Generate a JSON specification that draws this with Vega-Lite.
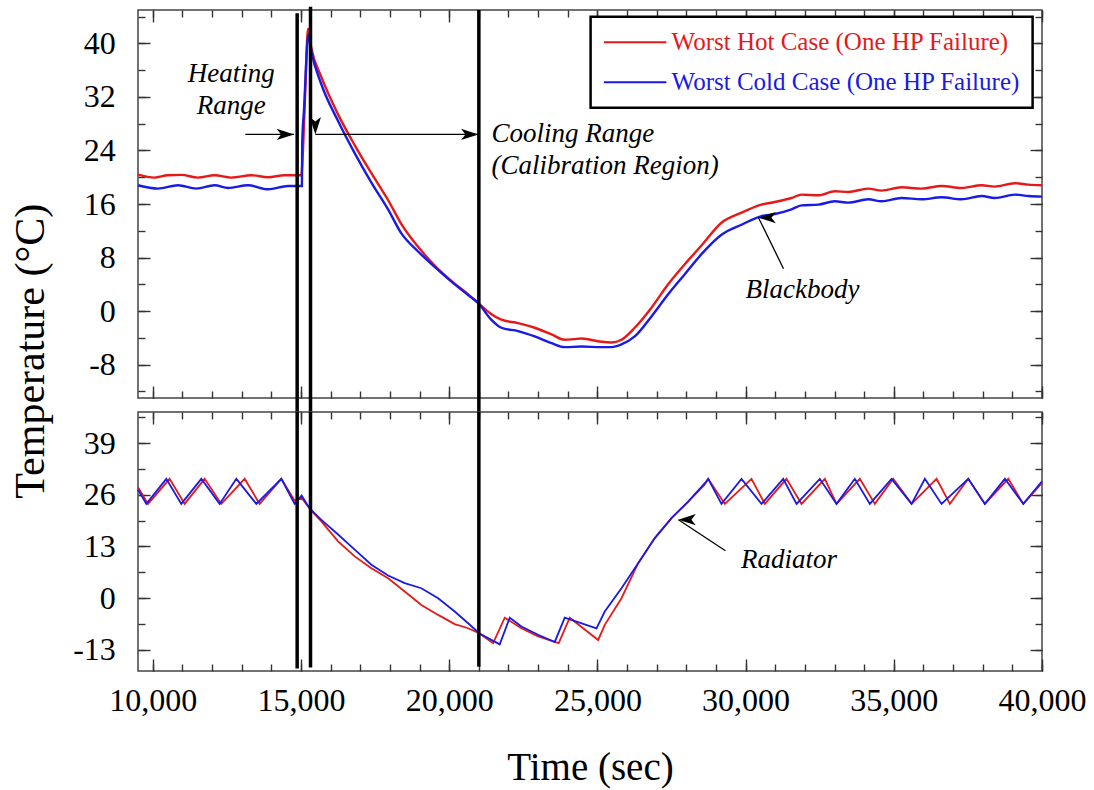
{
  "$schema": "https://vega.github.io/schema/vega-lite/v6.json",
  "background": "white",
  "padding": {"left": 8, "top": 4, "right": 5, "bottom": 5},
  "config": {
    "view": {"stroke": "#444", "strokeWidth": 1.5},
    "font": "Liberation Serif",
    "axis": {"grid": false, "domain": false, "tickColor": "#333", "tickWidth": 1.4, "labelFont": "Liberation Serif", "labelFontSize": 32, "labelColor": "#000", "titleFont": "Liberation Serif", "titleFontWeight": "normal", "titleColor": "#000", "labelFlush": false}
  },
  "datasets": {
    "bb": [
      {"t": 9500, "T": 20.4, "s": "Worst Hot Case (One HP Failure)"},
      {"t": 10055, "T": 19.95, "s": "Worst Hot Case (One HP Failure)"},
      {"t": 10500, "T": 20.3, "s": "Worst Hot Case (One HP Failure)"},
      {"t": 10961, "T": 20.35, "s": "Worst Hot Case (One HP Failure)"},
      {"t": 11525, "T": 19.95, "s": "Worst Hot Case (One HP Failure)"},
      {"t": 12085, "T": 20.3, "s": "Worst Hot Case (One HP Failure)"},
      {"t": 12649, "T": 19.95, "s": "Worst Hot Case (One HP Failure)"},
      {"t": 13324, "T": 20.3, "s": "Worst Hot Case (One HP Failure)"},
      {"t": 13888, "T": 20.0, "s": "Worst Hot Case (One HP Failure)"},
      {"t": 14448, "T": 20.3, "s": "Worst Hot Case (One HP Failure)"},
      {"t": 15010, "T": 20.3, "s": "Worst Hot Case (One HP Failure)"},
      {"t": 15075, "T": 25, "s": "Worst Hot Case (One HP Failure)"},
      {"t": 15143, "T": 33, "s": "Worst Hot Case (One HP Failure)"},
      {"t": 15237, "T": 42.2, "s": "Worst Hot Case (One HP Failure)"},
      {"t": 15349, "T": 39.3, "s": "Worst Hot Case (One HP Failure)"},
      {"t": 15686, "T": 35.0, "s": "Worst Hot Case (One HP Failure)"},
      {"t": 16250, "T": 29.4, "s": "Worst Hot Case (One HP Failure)"},
      {"t": 16810, "T": 24.8, "s": "Worst Hot Case (One HP Failure)"},
      {"t": 17374, "T": 20.6, "s": "Worst Hot Case (One HP Failure)"},
      {"t": 17937, "T": 16.6, "s": "Worst Hot Case (One HP Failure)"},
      {"t": 18386, "T": 13.0, "s": "Worst Hot Case (One HP Failure)"},
      {"t": 18950, "T": 9.6, "s": "Worst Hot Case (One HP Failure)"},
      {"t": 19510, "T": 6.8, "s": "Worst Hot Case (One HP Failure)"},
      {"t": 20074, "T": 4.5, "s": "Worst Hot Case (One HP Failure)"},
      {"t": 20637, "T": 2.5, "s": "Worst Hot Case (One HP Failure)"},
      {"t": 20975, "T": 1.2, "s": "Worst Hot Case (One HP Failure)"},
      {"t": 21400, "T": -0.4, "s": "Worst Hot Case (One HP Failure)"},
      {"t": 21761, "T": -1.3, "s": "Worst Hot Case (One HP Failure)"},
      {"t": 22325, "T": -1.8, "s": "Worst Hot Case (One HP Failure)"},
      {"t": 22885, "T": -2.5, "s": "Worst Hot Case (One HP Failure)"},
      {"t": 23449, "T": -3.5, "s": "Worst Hot Case (One HP Failure)"},
      {"t": 23898, "T": -4.3, "s": "Worst Hot Case (One HP Failure)"},
      {"t": 24200, "T": -4.2, "s": "Worst Hot Case (One HP Failure)"},
      {"t": 24461, "T": -4.1, "s": "Worst Hot Case (One HP Failure)"},
      {"t": 25136, "T": -4.6, "s": "Worst Hot Case (One HP Failure)"},
      {"t": 25474, "T": -4.7, "s": "Worst Hot Case (One HP Failure)"},
      {"t": 25811, "T": -4.3, "s": "Worst Hot Case (One HP Failure)"},
      {"t": 26260, "T": -2.5, "s": "Worst Hot Case (One HP Failure)"},
      {"t": 26824, "T": 0.5, "s": "Worst Hot Case (One HP Failure)"},
      {"t": 27387, "T": 4.0, "s": "Worst Hot Case (One HP Failure)"},
      {"t": 27948, "T": 7.0, "s": "Worst Hot Case (One HP Failure)"},
      {"t": 28511, "T": 9.8, "s": "Worst Hot Case (One HP Failure)"},
      {"t": 29186, "T": 13.2, "s": "Worst Hot Case (One HP Failure)"},
      {"t": 29861, "T": 14.7, "s": "Worst Hot Case (One HP Failure)"},
      {"t": 30536, "T": 15.9, "s": "Worst Hot Case (One HP Failure)"},
      {"t": 30985, "T": 16.3, "s": "Worst Hot Case (One HP Failure)"},
      {"t": 31550, "T": 16.9, "s": "Worst Hot Case (One HP Failure)"},
      {"t": 31887, "T": 17.4, "s": "Worst Hot Case (One HP Failure)"},
      {"t": 32450, "T": 17.3, "s": "Worst Hot Case (One HP Failure)"},
      {"t": 33012, "T": 17.9, "s": "Worst Hot Case (One HP Failure)"},
      {"t": 33464, "T": 17.8, "s": "Worst Hot Case (One HP Failure)"},
      {"t": 34139, "T": 18.3, "s": "Worst Hot Case (One HP Failure)"},
      {"t": 34588, "T": 18.0, "s": "Worst Hot Case (One HP Failure)"},
      {"t": 35263, "T": 18.5, "s": "Worst Hot Case (One HP Failure)"},
      {"t": 35938, "T": 18.3, "s": "Worst Hot Case (One HP Failure)"},
      {"t": 36613, "T": 18.7, "s": "Worst Hot Case (One HP Failure)"},
      {"t": 37288, "T": 18.4, "s": "Worst Hot Case (One HP Failure)"},
      {"t": 37963, "T": 18.8, "s": "Worst Hot Case (One HP Failure)"},
      {"t": 38402, "T": 18.6, "s": "Worst Hot Case (One HP Failure)"},
      {"t": 39086, "T": 19.1, "s": "Worst Hot Case (One HP Failure)"},
      {"t": 39538, "T": 18.9, "s": "Worst Hot Case (One HP Failure)"},
      {"t": 40000, "T": 18.8, "s": "Worst Hot Case (One HP Failure)"},
      {"t": 9500, "T": 18.8, "s": "Worst Cold Case (One HP Failure)"},
      {"t": 10175, "T": 18.3, "s": "Worst Cold Case (One HP Failure)"},
      {"t": 10850, "T": 18.8, "s": "Worst Cold Case (One HP Failure)"},
      {"t": 11468, "T": 18.3, "s": "Worst Cold Case (One HP Failure)"},
      {"t": 12085, "T": 18.8, "s": "Worst Cold Case (One HP Failure)"},
      {"t": 12538, "T": 18.4, "s": "Worst Cold Case (One HP Failure)"},
      {"t": 13213, "T": 18.8, "s": "Worst Cold Case (One HP Failure)"},
      {"t": 13888, "T": 18.2, "s": "Worst Cold Case (One HP Failure)"},
      {"t": 14561, "T": 18.7, "s": "Worst Cold Case (One HP Failure)"},
      {"t": 15030, "T": 18.7, "s": "Worst Cold Case (One HP Failure)"},
      {"t": 15040, "T": 25, "s": "Worst Cold Case (One HP Failure)"},
      {"t": 15100, "T": 30, "s": "Worst Cold Case (One HP Failure)"},
      {"t": 15250, "T": 41.3, "s": "Worst Cold Case (One HP Failure)"},
      {"t": 15349, "T": 38.8, "s": "Worst Cold Case (One HP Failure)"},
      {"t": 15686, "T": 33.9, "s": "Worst Cold Case (One HP Failure)"},
      {"t": 16250, "T": 28.4, "s": "Worst Cold Case (One HP Failure)"},
      {"t": 16810, "T": 23.6, "s": "Worst Cold Case (One HP Failure)"},
      {"t": 17374, "T": 19.2, "s": "Worst Cold Case (One HP Failure)"},
      {"t": 17937, "T": 15.2, "s": "Worst Cold Case (One HP Failure)"},
      {"t": 18386, "T": 11.6, "s": "Worst Cold Case (One HP Failure)"},
      {"t": 18950, "T": 8.9, "s": "Worst Cold Case (One HP Failure)"},
      {"t": 19510, "T": 6.6, "s": "Worst Cold Case (One HP Failure)"},
      {"t": 20074, "T": 4.4, "s": "Worst Cold Case (One HP Failure)"},
      {"t": 20637, "T": 2.4, "s": "Worst Cold Case (One HP Failure)"},
      {"t": 20975, "T": 1.2, "s": "Worst Cold Case (One HP Failure)"},
      {"t": 21400, "T": -1.2, "s": "Worst Cold Case (One HP Failure)"},
      {"t": 21761, "T": -2.5, "s": "Worst Cold Case (One HP Failure)"},
      {"t": 22325, "T": -3.0, "s": "Worst Cold Case (One HP Failure)"},
      {"t": 22885, "T": -3.8, "s": "Worst Cold Case (One HP Failure)"},
      {"t": 23449, "T": -4.8, "s": "Worst Cold Case (One HP Failure)"},
      {"t": 23898, "T": -5.4, "s": "Worst Cold Case (One HP Failure)"},
      {"t": 24461, "T": -5.3, "s": "Worst Cold Case (One HP Failure)"},
      {"t": 25136, "T": -5.4, "s": "Worst Cold Case (One HP Failure)"},
      {"t": 25474, "T": -5.4, "s": "Worst Cold Case (One HP Failure)"},
      {"t": 25811, "T": -5.0, "s": "Worst Cold Case (One HP Failure)"},
      {"t": 26260, "T": -3.8, "s": "Worst Cold Case (One HP Failure)"},
      {"t": 26824, "T": -0.8, "s": "Worst Cold Case (One HP Failure)"},
      {"t": 27387, "T": 2.5, "s": "Worst Cold Case (One HP Failure)"},
      {"t": 27948, "T": 5.5, "s": "Worst Cold Case (One HP Failure)"},
      {"t": 28511, "T": 8.5, "s": "Worst Cold Case (One HP Failure)"},
      {"t": 29186, "T": 11.4, "s": "Worst Cold Case (One HP Failure)"},
      {"t": 29861, "T": 12.9, "s": "Worst Cold Case (One HP Failure)"},
      {"t": 30536, "T": 14.2, "s": "Worst Cold Case (One HP Failure)"},
      {"t": 30985, "T": 14.5, "s": "Worst Cold Case (One HP Failure)"},
      {"t": 31550, "T": 15.2, "s": "Worst Cold Case (One HP Failure)"},
      {"t": 31887, "T": 15.8, "s": "Worst Cold Case (One HP Failure)"},
      {"t": 32450, "T": 15.9, "s": "Worst Cold Case (One HP Failure)"},
      {"t": 33012, "T": 16.4, "s": "Worst Cold Case (One HP Failure)"},
      {"t": 33464, "T": 16.2, "s": "Worst Cold Case (One HP Failure)"},
      {"t": 34139, "T": 16.7, "s": "Worst Cold Case (One HP Failure)"},
      {"t": 34588, "T": 16.4, "s": "Worst Cold Case (One HP Failure)"},
      {"t": 35263, "T": 16.9, "s": "Worst Cold Case (One HP Failure)"},
      {"t": 35938, "T": 16.7, "s": "Worst Cold Case (One HP Failure)"},
      {"t": 36613, "T": 17.0, "s": "Worst Cold Case (One HP Failure)"},
      {"t": 37288, "T": 16.7, "s": "Worst Cold Case (One HP Failure)"},
      {"t": 37963, "T": 17.2, "s": "Worst Cold Case (One HP Failure)"},
      {"t": 38402, "T": 16.9, "s": "Worst Cold Case (One HP Failure)"},
      {"t": 39086, "T": 17.4, "s": "Worst Cold Case (One HP Failure)"},
      {"t": 39538, "T": 17.2, "s": "Worst Cold Case (One HP Failure)"},
      {"t": 40000, "T": 17.1, "s": "Worst Cold Case (One HP Failure)"}
    ],
    "rad": [
      {"t": 9500, "T": 27.9, "s": "Worst Hot Case (One HP Failure)"},
      {"t": 9838, "T": 23.7, "s": "Worst Hot Case (One HP Failure)"},
      {"t": 10567, "T": 30, "s": "Worst Hot Case (One HP Failure)"},
      {"t": 11073, "T": 23.7, "s": "Worst Hot Case (One HP Failure)"},
      {"t": 11748, "T": 30, "s": "Worst Hot Case (One HP Failure)"},
      {"t": 12311, "T": 23.7, "s": "Worst Hot Case (One HP Failure)"},
      {"t": 13098, "T": 30, "s": "Worst Hot Case (One HP Failure)"},
      {"t": 13604, "T": 23.7, "s": "Worst Hot Case (One HP Failure)"},
      {"t": 14336, "T": 30, "s": "Worst Hot Case (One HP Failure)"},
      {"t": 14785, "T": 24.5, "s": "Worst Hot Case (One HP Failure)"},
      {"t": 15021, "T": 25.2, "s": "Worst Hot Case (One HP Failure)"},
      {"t": 15325, "T": 22.2, "s": "Worst Hot Case (One HP Failure)"},
      {"t": 15686, "T": 19.3, "s": "Worst Hot Case (One HP Failure)"},
      {"t": 16250, "T": 14.3, "s": "Worst Hot Case (One HP Failure)"},
      {"t": 16811, "T": 10.5, "s": "Worst Hot Case (One HP Failure)"},
      {"t": 17374, "T": 7.55, "s": "Worst Hot Case (One HP Failure)"},
      {"t": 17938, "T": 5.0, "s": "Worst Hot Case (One HP Failure)"},
      {"t": 18498, "T": 1.7, "s": "Worst Hot Case (One HP Failure)"},
      {"t": 19061, "T": -1.7, "s": "Worst Hot Case (One HP Failure)"},
      {"t": 19625, "T": -4.2, "s": "Worst Hot Case (One HP Failure)"},
      {"t": 20185, "T": -6.5, "s": "Worst Hot Case (One HP Failure)"},
      {"t": 20638, "T": -7.55, "s": "Worst Hot Case (One HP Failure)"},
      {"t": 21009, "T": -8.8, "s": "Worst Hot Case (One HP Failure)"},
      {"t": 21481, "T": -11.3, "s": "Worst Hot Case (One HP Failure)"},
      {"t": 21873, "T": -4.9, "s": "Worst Hot Case (One HP Failure)"},
      {"t": 22436, "T": -7.55, "s": "Worst Hot Case (One HP Failure)"},
      {"t": 23000, "T": -9.6, "s": "Worst Hot Case (One HP Failure)"},
      {"t": 23695, "T": -11.3, "s": "Worst Hot Case (One HP Failure)"},
      {"t": 24066, "T": -4.9, "s": "Worst Hot Case (One HP Failure)"},
      {"t": 25025, "T": -10.5, "s": "Worst Hot Case (One HP Failure)"},
      {"t": 25248, "T": -6.7, "s": "Worst Hot Case (One HP Failure)"},
      {"t": 25812, "T": 0, "s": "Worst Hot Case (One HP Failure)"},
      {"t": 26375, "T": 8.8, "s": "Worst Hot Case (One HP Failure)"},
      {"t": 26936, "T": 15.1, "s": "Worst Hot Case (One HP Failure)"},
      {"t": 27500, "T": 20.1, "s": "Worst Hot Case (One HP Failure)"},
      {"t": 28063, "T": 24.3, "s": "Worst Hot Case (One HP Failure)"},
      {"t": 28624, "T": 28.6, "s": "Worst Hot Case (One HP Failure)"},
      {"t": 28738, "T": 30, "s": "Worst Hot Case (One HP Failure)"},
      {"t": 29300, "T": 23.7, "s": "Worst Hot Case (One HP Failure)"},
      {"t": 30199, "T": 30, "s": "Worst Hot Case (One HP Failure)"},
      {"t": 30648, "T": 23.7, "s": "Worst Hot Case (One HP Failure)"},
      {"t": 31380, "T": 30, "s": "Worst Hot Case (One HP Failure)"},
      {"t": 31887, "T": 23.7, "s": "Worst Hot Case (One HP Failure)"},
      {"t": 32673, "T": 30, "s": "Worst Hot Case (One HP Failure)"},
      {"t": 33067, "T": 23.7, "s": "Worst Hot Case (One HP Failure)"},
      {"t": 33854, "T": 30, "s": "Worst Hot Case (One HP Failure)"},
      {"t": 34360, "T": 23.7, "s": "Worst Hot Case (One HP Failure)"},
      {"t": 34981, "T": 30, "s": "Worst Hot Case (One HP Failure)"},
      {"t": 35599, "T": 23.7, "s": "Worst Hot Case (One HP Failure)"},
      {"t": 36443, "T": 30, "s": "Worst Hot Case (One HP Failure)"},
      {"t": 36892, "T": 23.7, "s": "Worst Hot Case (One HP Failure)"},
      {"t": 37513, "T": 30, "s": "Worst Hot Case (One HP Failure)"},
      {"t": 38073, "T": 23.7, "s": "Worst Hot Case (One HP Failure)"},
      {"t": 38862, "T": 30, "s": "Worst Hot Case (One HP Failure)"},
      {"t": 39369, "T": 23.7, "s": "Worst Hot Case (One HP Failure)"},
      {"t": 40000, "T": 29, "s": "Worst Hot Case (One HP Failure)"},
      {"t": 9500, "T": 27.3, "s": "Worst Cold Case (One HP Failure)"},
      {"t": 9780, "T": 23.7, "s": "Worst Cold Case (One HP Failure)"},
      {"t": 10455, "T": 30, "s": "Worst Cold Case (One HP Failure)"},
      {"t": 10961, "T": 23.7, "s": "Worst Cold Case (One HP Failure)"},
      {"t": 11636, "T": 30, "s": "Worst Cold Case (One HP Failure)"},
      {"t": 12254, "T": 23.7, "s": "Worst Cold Case (One HP Failure)"},
      {"t": 12818, "T": 30, "s": "Worst Cold Case (One HP Failure)"},
      {"t": 13493, "T": 23.7, "s": "Worst Cold Case (One HP Failure)"},
      {"t": 14336, "T": 30, "s": "Worst Cold Case (One HP Failure)"},
      {"t": 14785, "T": 23.7, "s": "Worst Cold Case (One HP Failure)"},
      {"t": 15021, "T": 25.8, "s": "Worst Cold Case (One HP Failure)"},
      {"t": 15200, "T": 23.6, "s": "Worst Cold Case (One HP Failure)"},
      {"t": 15325, "T": 22.3, "s": "Worst Cold Case (One HP Failure)"},
      {"t": 15686, "T": 19.7, "s": "Worst Cold Case (One HP Failure)"},
      {"t": 16250, "T": 16.0, "s": "Worst Cold Case (One HP Failure)"},
      {"t": 16811, "T": 12.2, "s": "Worst Cold Case (One HP Failure)"},
      {"t": 17374, "T": 8.4, "s": "Worst Cold Case (One HP Failure)"},
      {"t": 17938, "T": 5.7, "s": "Worst Cold Case (One HP Failure)"},
      {"t": 18498, "T": 3.8, "s": "Worst Cold Case (One HP Failure)"},
      {"t": 19061, "T": 2.5, "s": "Worst Cold Case (One HP Failure)"},
      {"t": 19625, "T": 0, "s": "Worst Cold Case (One HP Failure)"},
      {"t": 20185, "T": -3.35, "s": "Worst Cold Case (One HP Failure)"},
      {"t": 20638, "T": -6.3, "s": "Worst Cold Case (One HP Failure)"},
      {"t": 21009, "T": -8.8, "s": "Worst Cold Case (One HP Failure)"},
      {"t": 21704, "T": -11.6, "s": "Worst Cold Case (One HP Failure)"},
      {"t": 22042, "T": -4.9, "s": "Worst Cold Case (One HP Failure)"},
      {"t": 22436, "T": -7.1, "s": "Worst Cold Case (One HP Failure)"},
      {"t": 23000, "T": -9.2, "s": "Worst Cold Case (One HP Failure)"},
      {"t": 23561, "T": -11.0, "s": "Worst Cold Case (One HP Failure)"},
      {"t": 23898, "T": -4.9, "s": "Worst Cold Case (One HP Failure)"},
      {"t": 24968, "T": -7.6, "s": "Worst Cold Case (One HP Failure)"},
      {"t": 25248, "T": -3.35, "s": "Worst Cold Case (One HP Failure)"},
      {"t": 25812, "T": 2.5, "s": "Worst Cold Case (One HP Failure)"},
      {"t": 26375, "T": 8.8, "s": "Worst Cold Case (One HP Failure)"},
      {"t": 26936, "T": 15.1, "s": "Worst Cold Case (One HP Failure)"},
      {"t": 27500, "T": 20.1, "s": "Worst Cold Case (One HP Failure)"},
      {"t": 28063, "T": 24.3, "s": "Worst Cold Case (One HP Failure)"},
      {"t": 28624, "T": 28.9, "s": "Worst Cold Case (One HP Failure)"},
      {"t": 28738, "T": 30, "s": "Worst Cold Case (One HP Failure)"},
      {"t": 29186, "T": 23.7, "s": "Worst Cold Case (One HP Failure)"},
      {"t": 29861, "T": 30, "s": "Worst Cold Case (One HP Failure)"},
      {"t": 30536, "T": 23.7, "s": "Worst Cold Case (One HP Failure)"},
      {"t": 31269, "T": 30, "s": "Worst Cold Case (One HP Failure)"},
      {"t": 31719, "T": 23.7, "s": "Worst Cold Case (One HP Failure)"},
      {"t": 32504, "T": 30, "s": "Worst Cold Case (One HP Failure)"},
      {"t": 33067, "T": 23.7, "s": "Worst Cold Case (One HP Failure)"},
      {"t": 33685, "T": 30, "s": "Worst Cold Case (One HP Failure)"},
      {"t": 34192, "T": 23.7, "s": "Worst Cold Case (One HP Failure)"},
      {"t": 34924, "T": 30, "s": "Worst Cold Case (One HP Failure)"},
      {"t": 35599, "T": 23.7, "s": "Worst Cold Case (One HP Failure)"},
      {"t": 36048, "T": 30, "s": "Worst Cold Case (One HP Failure)"},
      {"t": 36611, "T": 23.7, "s": "Worst Cold Case (One HP Failure)"},
      {"t": 37513, "T": 30, "s": "Worst Cold Case (One HP Failure)"},
      {"t": 38073, "T": 23.7, "s": "Worst Cold Case (One HP Failure)"},
      {"t": 38748, "T": 30, "s": "Worst Cold Case (One HP Failure)"},
      {"t": 39369, "T": 23.7, "s": "Worst Cold Case (One HP Failure)"},
      {"t": 40000, "T": 29.4, "s": "Worst Cold Case (One HP Failure)"}
    ],
    "vTop": [
      {"t": 14870, "y1": 44.5, "y2": -15.1},
      {"t": 15320, "y1": 45.5, "y2": -15.1},
      {"t": 21000, "y1": 45, "y2": -15.1}
    ],
    "vBot": [
      {"t": 14870, "y1": 46.8, "y2": -17.65},
      {"t": 15320, "y1": 46.8, "y2": -17.4},
      {"t": 21000, "y1": 46.8, "y2": -17.2}
    ],
    "txtTopC": [
      {"t": 12649, "T": 34.28, "label": ["Heating", "Range"]},
      {"t": 31918, "T": 1.89, "label": "Blackbody"}
    ],
    "txtTopL": [
      {"t": 21424, "T": 25.31, "label": ["Cooling Range", "(Calibration Region)"]}
    ],
    "arrTop": [
      {"t": 13121, "T": 26.4, "t2": 14765, "T2": 26.4},
      {"t": 15484, "T": 26.4, "t2": 20985, "T2": 26.4},
      {"t": 31279, "T": 6.33, "t2": 30436, "T2": 13.95}
    ],
    "headTop": [
      {"t": 14765, "T": 26.4, "dir": "right"},
      {"t": 15484, "T": 26.4, "dir": "left"},
      {"t": 20985, "T": 26.4, "dir": "right"},
      {"t": 30436, "T": 13.95, "dir": "upleft"}
    ],
    "txtBot": [
      {"t": 31464, "T": 7.48, "label": "Radiator"}
    ],
    "arrBot": [
      {"t": 29320, "T": 11.93, "t2": 27734, "T2": 19.73}
    ],
    "headBot": [
      {"t": 27734, "T": 19.73, "dir": "upleft"}
    ]
  },
  "spacing": 14,
  "bounds": "flush",
  "vconcat": [
    {
      "width": 904,
      "height": 388,
      "resolve": {"axis": {"x": "independent", "y": "independent"}},
      "layer": [
        {
          "data": {"name": "bb"},
          "mark": {"type": "line", "strokeWidth": 2.4, "interpolate": "monotone"},
          "encoding": {
            "x": {"field": "t", "type": "quantitative", "scale": {"domain": [9500, 40000], "nice": false, "zero": false},
              "axis": {"orient": "bottom", "values": [10000, 15000, 20000, 25000, 30000, 35000, 40000], "tickSize": -12, "labels": false, "title": null}},
            "y": {"field": "T", "type": "quantitative", "scale": {"domain": [-13, 45], "nice": false, "zero": false},
              "axis": {"orient": "left", "values": [-8, 0, 8, 16, 24, 32, 40], "tickSize": -12, "labelPadding": 34.7, "labelExpr": "datum.value < 0 ? '-' + abs(datum.value) : datum.label",
                "title": "Temperature (°C)", "titleFontSize": 42, "titleAngle": 270, "titleAlign": "center", "titleBaseline": "alphabetic", "titleX": -95, "titleY": 340.7}},
            "color": {"field": "s", "type": "nominal",
              "scale": {"domain": ["Worst Hot Case (One HP Failure)", "Worst Cold Case (One HP Failure)"], "range": ["#e61919", "#1a1ae6"]},
              "legend": {"orient": "none", "legendX": 452.6, "legendY": 6.7, "title": null,
                "symbolType": "M-2.5,0L2.5,0", "symbolSize": 625, "symbolStrokeWidth": 2, "symbolOffset": 19,
                "labelFont": "Liberation Serif", "labelFontSize": 25, "labelOffset": 23, "labelLimit": 500,
                "padding": 12, "rowPadding": 13, "strokeColor": "black", "fillColor": "white",
                "encode": {
                  "legend": {"update": {"strokeWidth": {"value": 2.5}}},
                  "labels": {"update": {"fill": {"signal": "datum.value === 'Worst Hot Case (One HP Failure)' ? '#e61919' : '#1a1ae6'"}}}
                }}}
          }
        },
        {
          "data": {"name": "vTop"},
          "mark": {"type": "rule", "strokeWidth": 3.5, "color": "black", "clip": false},
          "encoding": {
            "x": {"field": "t", "type": "quantitative", "scale": {"domain": [9500, 40000], "nice": false, "zero": false},
              "axis": {"orient": "bottom", "values": [10000, 11000, 12000, 13000, 14000, 15000, 16000, 17000, 18000, 19000, 20000, 21000, 22000, 23000, 24000, 25000, 26000, 27000, 28000, 29000, 30000, 31000, 32000, 33000, 34000, 35000, 36000, 37000, 38000, 39000, 40000], "tickSize": -7, "labels": false, "title": null}},
            "y": {"field": "y1", "type": "quantitative", "scale": {"domain": [-13, 45], "nice": false, "zero": false},
              "axis": {"orient": "left", "values": [-12, -8, -4, 0, 4, 8, 12, 16, 20, 24, 28, 32, 36, 40, 44], "tickSize": -7, "labels": false, "title": null}},
            "y2": {"field": "y2"}
          }
        },
        {
          "data": {"name": "txtTopC"},
          "mark": {"type": "text", "font": "Liberation Serif", "fontStyle": "italic", "fontSize": 27, "align": "center", "baseline": "alphabetic", "lineHeight": 32, "color": "black"},
          "encoding": {
            "x": {"field": "t", "type": "quantitative", "scale": {"domain": [9500, 40000], "nice": false, "zero": false},
              "axis": {"orient": "top", "values": [10000, 15000, 20000, 25000, 30000, 35000, 40000], "tickSize": -12, "labels": false, "title": null}},
            "y": {"field": "T", "type": "quantitative", "scale": {"domain": [-13, 45], "nice": false, "zero": false},
              "axis": {"orient": "right", "values": [-8, 0, 8, 16, 24, 32, 40], "tickSize": -12, "labels": false, "title": null}},
            "text": {"field": "label"}
          }
        },
        {
          "data": {"name": "txtTopL"},
          "mark": {"type": "text", "font": "Liberation Serif", "fontStyle": "italic", "fontSize": 27, "align": "left", "baseline": "alphabetic", "lineHeight": 32, "color": "black"},
          "encoding": {
            "x": {"field": "t", "type": "quantitative", "scale": {"domain": [9500, 40000], "nice": false, "zero": false}, "axis": null},
            "y": {"field": "T", "type": "quantitative", "scale": {"domain": [-13, 45], "nice": false, "zero": false}, "axis": null},
            "text": {"field": "label"}
          }
        },
        {
          "data": {"name": "arrTop"},
          "mark": {"type": "rule", "strokeWidth": 1.3, "color": "black"},
          "encoding": {
            "x": {"field": "t", "type": "quantitative", "scale": {"domain": [9500, 40000], "nice": false, "zero": false},
              "axis": {"orient": "top", "values": [10000, 11000, 12000, 13000, 14000, 15000, 16000, 17000, 18000, 19000, 20000, 21000, 22000, 23000, 24000, 25000, 26000, 27000, 28000, 29000, 30000, 31000, 32000, 33000, 34000, 35000, 36000, 37000, 38000, 39000, 40000], "tickSize": -7, "labels": false, "title": null}},
            "y": {"field": "T", "type": "quantitative", "scale": {"domain": [-13, 45], "nice": false, "zero": false},
              "axis": {"orient": "right", "values": [-12, -8, -4, 0, 4, 8, 12, 16, 20, 24, 28, 32, 36, 40, 44], "tickSize": -7, "labels": false, "title": null}},
            "x2": {"field": "t2"},
            "y2": {"field": "T2"}
          }
        },
        {
          "data": {"name": "headTop"},
          "mark": {"type": "point", "shape": "M0,0L-2,-0.65L-1.5,0L-2,0.65Z", "filled": true, "color": "black", "opacity": 1, "size": 300},
          "encoding": {
            "x": {"field": "t", "type": "quantitative", "scale": {"domain": [9500, 40000], "nice": false, "zero": false}, "axis": null},
            "y": {"field": "T", "type": "quantitative", "scale": {"domain": [-13, 45], "nice": false, "zero": false}, "axis": null},
            "angle": {"field": "dir", "type": "nominal", "scale": {"domain": ["right", "left", "upleft"], "range": [0, 180, 244]}, "legend": null}
          }
        }
      ]
    },
    {
      "width": 904,
      "height": 259,
      "resolve": {"axis": {"x": "independent", "y": "independent"}},
      "layer": [
        {
          "data": {"name": "rad"},
          "mark": {"type": "line", "strokeWidth": 1.8},
          "encoding": {
            "x": {"field": "t", "type": "quantitative", "scale": {"domain": [9500, 40000], "nice": false, "zero": false},
              "axis": {"orient": "bottom", "values": [10000, 15000, 20000, 25000, 30000, 35000, 40000], "tickSize": -12, "format": ",d", "labelPadding": 26,
                "title": "Time (sec)", "titleFontSize": 39, "titleBaseline": "alphabetic", "titleY": 108}},
            "y": {"field": "T", "type": "quantitative", "scale": {"domain": [-18.3, 46.8], "nice": false, "zero": false},
              "axis": {"orient": "left", "values": [-13, 0, 13, 26, 39], "tickSize": -12, "labelPadding": 34.7, "labelExpr": "datum.value < 0 ? '-' + abs(datum.value) : datum.label", "title": null}},
            "color": {"field": "s", "type": "nominal",
              "scale": {"domain": ["Worst Hot Case (One HP Failure)", "Worst Cold Case (One HP Failure)"], "range": ["#e61919", "#1a1ae6"]},
              "legend": null}
          }
        },
        {
          "data": {"name": "vBot"},
          "mark": {"type": "rule", "strokeWidth": 3.5, "color": "black", "clip": false},
          "encoding": {
            "x": {"field": "t", "type": "quantitative", "scale": {"domain": [9500, 40000], "nice": false, "zero": false},
              "axis": {"orient": "bottom", "values": [10000, 11000, 12000, 13000, 14000, 15000, 16000, 17000, 18000, 19000, 20000, 21000, 22000, 23000, 24000, 25000, 26000, 27000, 28000, 29000, 30000, 31000, 32000, 33000, 34000, 35000, 36000, 37000, 38000, 39000, 40000], "tickSize": -7, "labels": false, "title": null}},
            "y": {"field": "y1", "type": "quantitative", "scale": {"domain": [-18.3, 46.8], "nice": false, "zero": false},
              "axis": {"orient": "left", "values": [-13, -6.5, 0, 6.5, 13, 19.5, 26, 32.5, 39, 45.5], "tickSize": -7, "labels": false, "title": null}},
            "y2": {"field": "y2"}
          }
        },
        {
          "data": {"name": "txtBot"},
          "mark": {"type": "text", "font": "Liberation Serif", "fontStyle": "italic", "fontSize": 27, "align": "center", "baseline": "alphabetic", "color": "black"},
          "encoding": {
            "x": {"field": "t", "type": "quantitative", "scale": {"domain": [9500, 40000], "nice": false, "zero": false},
              "axis": {"orient": "top", "values": [10000, 15000, 20000, 25000, 30000, 35000, 40000], "tickSize": -12, "labels": false, "title": null}},
            "y": {"field": "T", "type": "quantitative", "scale": {"domain": [-18.3, 46.8], "nice": false, "zero": false},
              "axis": {"orient": "right", "values": [-13, 0, 13, 26, 39], "tickSize": -12, "labels": false, "title": null}},
            "text": {"field": "label"}
          }
        },
        {
          "data": {"name": "arrBot"},
          "mark": {"type": "rule", "strokeWidth": 1.3, "color": "black"},
          "encoding": {
            "x": {"field": "t", "type": "quantitative", "scale": {"domain": [9500, 40000], "nice": false, "zero": false},
              "axis": {"orient": "top", "values": [10000, 11000, 12000, 13000, 14000, 15000, 16000, 17000, 18000, 19000, 20000, 21000, 22000, 23000, 24000, 25000, 26000, 27000, 28000, 29000, 30000, 31000, 32000, 33000, 34000, 35000, 36000, 37000, 38000, 39000, 40000], "tickSize": -7, "labels": false, "title": null}},
            "y": {"field": "T", "type": "quantitative", "scale": {"domain": [-18.3, 46.8], "nice": false, "zero": false},
              "axis": {"orient": "right", "values": [-13, -6.5, 0, 6.5, 13, 19.5, 26, 32.5, 39, 45.5], "tickSize": -7, "labels": false, "title": null}},
            "x2": {"field": "t2"},
            "y2": {"field": "T2"}
          }
        },
        {
          "data": {"name": "headBot"},
          "mark": {"type": "point", "shape": "M0,0L-2,-0.65L-1.5,0L-2,0.65Z", "filled": true, "color": "black", "opacity": 1, "size": 300},
          "encoding": {
            "x": {"field": "t", "type": "quantitative", "scale": {"domain": [9500, 40000], "nice": false, "zero": false}, "axis": null},
            "y": {"field": "T", "type": "quantitative", "scale": {"domain": [-18.3, 46.8], "nice": false, "zero": false}, "axis": null},
            "angle": {"field": "dir", "type": "nominal", "scale": {"domain": ["upleft"], "range": [213]}, "legend": null}
          }
        }
      ]
    }
  ]
}
